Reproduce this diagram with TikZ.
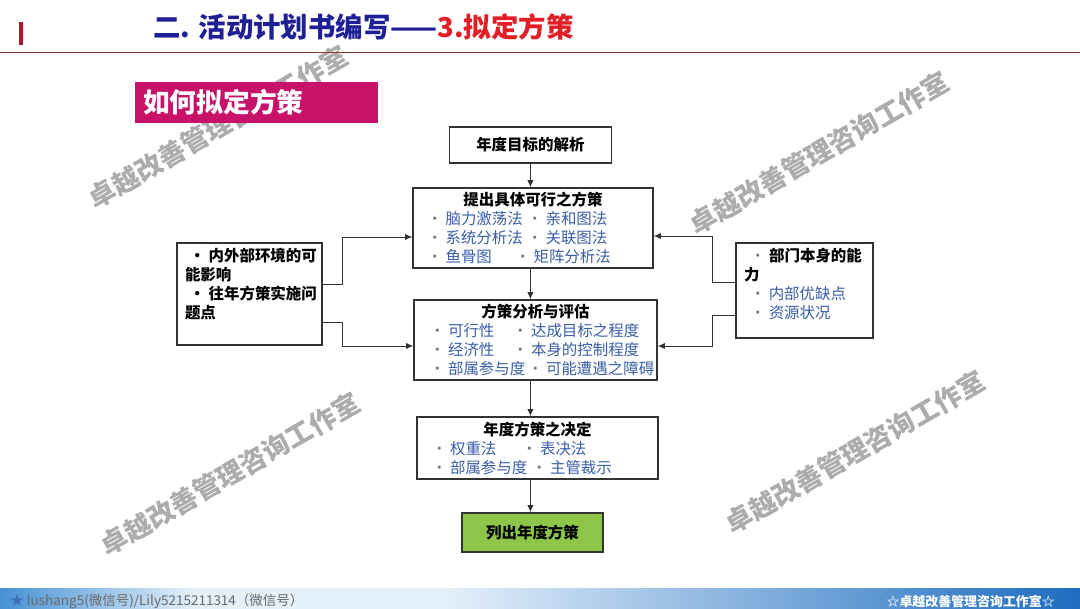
\documentclass[tikz,border=0pt]{standalone}
\usepackage{fontspec}
\setmainfont{Noto Sans CJK SC}
\usepackage{tikz}
\usetikzlibrary{arrows.meta,positioning,calc}

\definecolor{navytitle}{RGB}{32,32,150}
\definecolor{redtitle}{RGB}{228,30,38}
\definecolor{barred}{RGB}{165,28,40}
\definecolor{rulebrown}{RGB}{140,55,55}
\definecolor{magentabox}{RGB}{200,18,105}
\definecolor{itemblue}{RGB}{58,95,168}
\definecolor{dotgray}{RGB}{120,120,120}
\definecolor{greenbox}{RGB}{141,198,72}
\definecolor{wmgray}{RGB}{172,172,172}
\definecolor{footblue}{RGB}{70,145,212}
\definecolor{footlight}{RGB}{228,240,250}
\definecolor{footdark}{RGB}{30,108,192}
\definecolor{footgray}{RGB}{105,105,105}
\definecolor{footstar}{RGB}{60,110,185}

\pgfdeclarehorizontalshading{footshade}{100bp}{color(0bp)=(footblue); color(25bp)=(footblue);
  color(34bp)=(footlight); color(45.5bp)=(footlight); color(75bp)=(footdark); color(100bp)=(footdark)}

\newcommand{\itm}[1]{{\color{dotgray}·}\hspace{0.2em}{\color{itemblue}#1}}
\newcommand{\duo}[3]{\makebox[5.3cm][l]{\makebox[#1][l]{\itm{#2}}\itm{#3}}}

\begin{document}
\begin{tikzpicture}[
  every node/.style={font=\fontsize{11}{13.5}\selectfont},
  box/.style={draw=black!80, line width=1pt, fill=white, align=center,
              inner xsep=0.35cm, inner ysep=0pt},
  sidebox/.style={draw=black!80, line width=1pt, fill=white, inner ysep=0.125cm},
  arr/.style={-{Latex[length=1.8mm,width=1.6mm]}, draw=black!80, line width=0.7pt},
  wmark/.style={font=\fontsize{19}{19}\selectfont\bfseries, text=wmgray, rotate=30},
]
  \useasboundingbox (0,0) rectangle (27,-15.2);
  \fill[white] (0,0) rectangle (27,-15.2);

  % Watermarks
  \node[wmark] (wm1) at (5.45,-3.175)  {卓越改善管理咨询工作室};
  \node[wmark] (wm2) at (20.475,-3.825) {卓越改善管理咨询工作室};
  \node[wmark] (wm3) at (5.75,-11.85)  {卓越改善管理咨询工作室};
  \node[wmark] (wm4) at (21.375,-11.3) {卓越改善管理咨询工作室};

  % Header
  \fill[barred] (0.475,-0.55) rectangle (0.575,-1.125);
  \node[anchor=west, inner sep=0pt, font=\fontsize{19.5}{19.5}\selectfont\bfseries] (head)
    at (3.825,-0.675) {{\color{navytitle}二. 活动计划书编写——}{\color{redtitle}3.拟定方策}};
  \draw[rulebrown, line width=0.8pt] (0,-1.31) -- (27,-1.31);

  \node[anchor=west, fill=magentabox, text=white, font=\fontsize{19}{19}\selectfont\bfseries,
        minimum height=1.025cm, text width=5.675cm, inner xsep=0.2cm, align=left] (how)
    at (3.375,-2.5625) {如何拟定方策};

  % Main column
  \node[box, minimum width=4.05cm, minimum height=0.9cm,
        font=\fontsize{11}{13.5}\selectfont\bfseries] (goal) at (13.26,-3.625)
    {\raisebox{0.08cm}{年度目标的解析}};
  \node[box, minimum width=6.0cm, minimum height=2.0cm] (plan) at (13.325,-5.7)
    {\textbf{提出具体可行之方策}\\
     \duo{2.5cm}{脑力激荡法}{亲和图法}\\
     \duo{2.5cm}{系统分析法}{关联图法}\\
     \duo{2.2cm}{鱼骨图}{矩阵分析法}};
  \node[box, minimum width=6.075cm, minimum height=2.0cm] (eval) at (13.3875,-8.5)
    {\textbf{方策分析与评估}\\
     \duo{2.075cm}{可行性}{达成目标之程度}\\
     \duo{2.075cm}{经济性}{本身的控制程度}\\
     \duo{2.45cm}{部属参与度}{可能遭遇之障碍}};
  \node[box, minimum width=6.025cm, minimum height=1.55cm] (decide) at (13.4375,-11.2)
    {\textbf{年度方策之决定}\\
     \duo{2.25cm}{权重法}{表决法}\\
     \duo{2.5cm}{部属参与度}{主管裁示}};
  \node[box, fill=greenbox, minimum width=3.525cm, minimum height=0.975cm,
        font=\fontsize{11}{13.5}\selectfont\bfseries] (final) at (13.3125,-13.3125) {列出年度方策};

  % Side inputs
  \node[sidebox, inner xsep=0.2cm] (env) at (6.2375,-7.35)
    {\parbox[c][2.3cm][t]{3.225cm}{\bfseries\raggedright
     \mbox{\hspace*{0.3em}·~内外部环境的可}\\
     能影响\\
     \mbox{\hspace*{0.3em}·~往年方策实施问}\\
     题点}};
  \node[sidebox, inner xsep=0.2cm] (dept) at (20.1125,-7.2625)
    {\parbox[c][2.125cm][t]{3.025cm}{\raggedright
     \mbox{\hspace*{0.4em}{\color{dotgray}·}~\textbf{部门本身的能}}\\
     \textbf{力}\\
     \hspace*{0.4em}\itm{内部优缺点}\\
     \hspace*{0.4em}\itm{资源状况}}};

  % Arrows down the column
  \draw[arr] (goal) -- (goal |- plan.north);
  \draw[arr] (plan.south -| goal) -- (eval.north -| goal);
  \draw[arr] (eval.south -| goal) -- (decide.north -| goal);
  \draw[arr] (decide.south -| goal) -- (final.north -| goal);

  % Arrows from the sides
  \draw[arr] ([yshift=0.25cm]env.east) -- ++(0.5,0) |- ([yshift=-0.225cm]plan.west);
  \draw[arr] ([yshift=-0.7cm]env.east) -- ++(0.5,0) |- ([yshift=-0.15cm]eval.west);
  \draw[arr] ([yshift=0.2125cm]dept.west) -- ++(-0.575,0) |- ([yshift=-0.2cm]plan.east);
  \draw[arr] ([yshift=-0.6125cm]dept.west) -- ++(-0.575,0) |- ([yshift=-0.15cm]eval.east);

  % Footer
  \shade[shading=footshade] (0,-14.7) rectangle (27,-15.2);
  \node[anchor=west, inner sep=0pt, font=\fontsize{9.6}{9.6}\selectfont, text=footgray] (contact)
    at (0.25,-15.03) {{\color{footstar}★} lushang5(微信号)/Lily5215211314（微信号）};
  \node[anchor=east, inner sep=0pt, font=\fontsize{9.2}{9.2}\selectfont\bfseries, text=white] (studio)
    at (26.375,-15.03) {☆卓越改善管理咨询工作室☆};
\end{tikzpicture}
\end{document}
